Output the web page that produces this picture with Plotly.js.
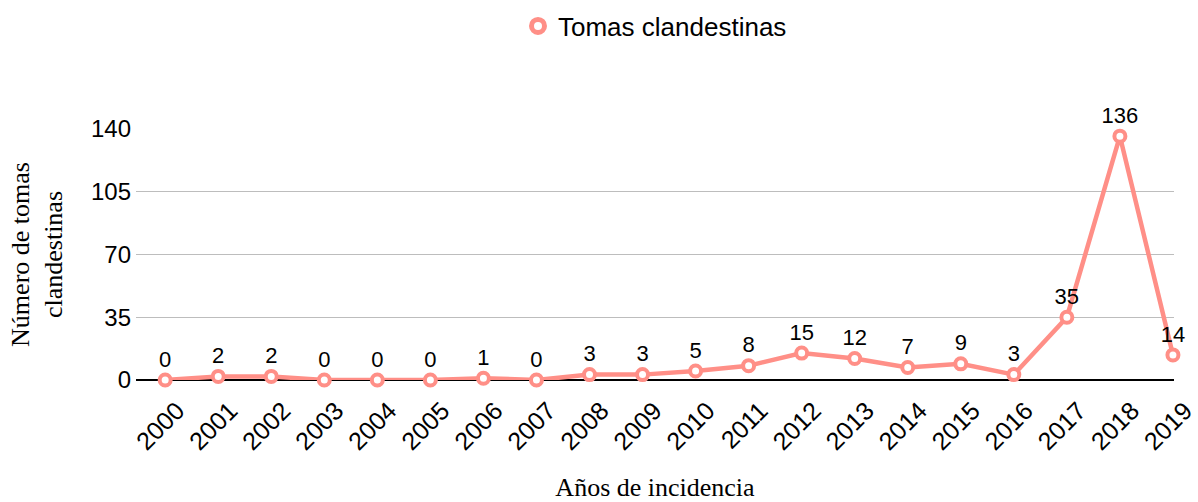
<!DOCTYPE html>
<html><head><meta charset="utf-8">
<script src="https://cdn.plot.ly/plotly-3.0.1.min.js"></script>
<style>html,body{margin:0;padding:0;background:#fff}#chart{width:1198px;height:502px}</style>
</head><body><div id="chart"></div>
<script>
const years = ["2000","2001","2002","2003","2004","2005","2006","2007","2008","2009","2010","2011","2012","2013","2014","2015","2016","2017","2018","2019"];
const tomas = [0,2,2,0,0,0,1,0,3,3,5,8,15,12,7,9,3,35,136,14];
const yTicks = [0,35,70,105,140];
const seriesName = "Tomas clandestinas";

const pink = "#FF8F87";
const idx = years.map((_, i) => i);
const trace = {
  x: idx, y: tomas, type: "scatter", mode: "lines+markers+text",
  name: seriesName, showlegend: false,
  text: tomas.map(String), textposition: "top center",
  textfont: {family: "Liberation Sans, Arial, sans-serif", size: 22, color: "#000"},
  line: {color: pink, width: 4.5},
  marker: {symbol: "circle", size: 11, color: "#fff", line: {color: pink, width: 4}},
  cliponaxis: false
};
const legendTrace = {
  x: [null], y: [null], type: "scatter", mode: "markers", name: seriesName,
  marker: {symbol: "circle", size: 13, color: "#fff", line: {color: pink, width: 5}}
};
const layout = {
  width: 1198, height: 502,
  margin: {l: 136, r: 24, t: 129, b: 122},
  paper_bgcolor: "#fff", plot_bgcolor: "#fff",
  font: {family: "Liberation Sans, Arial, sans-serif", size: 24, color: "#000"},
  showlegend: true,
  legend: {orientation: "h", x: 0.5, xanchor: "center", y: 0.995, yref: "container", yanchor: "top",
           font: {size: 26, color: "#000"}, itemwidth: 30},
  xaxis: {
    type: "linear", range: [-0.55, 19.02],
    tickmode: "array", tickvals: idx, ticktext: years, tickangle: -45,
    showgrid: false, zeroline: false, showline: false, ticks: "",
    ticklabelshift: 12, ticklabelstandoff: 10, ticklabeloverflow: "allow",
    tickfont: {size: 25, color: "#000"},
    title: {text: "Años de incidencia", font: {family: "Liberation Serif, DejaVu Serif, serif", size: 26, color: "#000"}, standoff: 26}
  },
  yaxis: {
    range: [0, 140], tickmode: "array", tickvals: yTicks,
    showgrid: true, gridcolor: "#bdbdbd", gridwidth: 1,
    zeroline: true, zerolinecolor: "#000", zerolinewidth: 2,
    showline: false, ticks: "", ticklabelstandoff: 4,
    tickfont: {size: 24, color: "#000"},
    title: {text: "Número de tomas<br>clandestinas", font: {family: "Liberation Serif, DejaVu Serif, serif", size: 26, color: "#000"}, standoff: 20}
  }
};
Plotly.newPlot("chart", [trace, legendTrace], layout, {displayModeBar: false, staticPlot: true});
</script></body></html>
